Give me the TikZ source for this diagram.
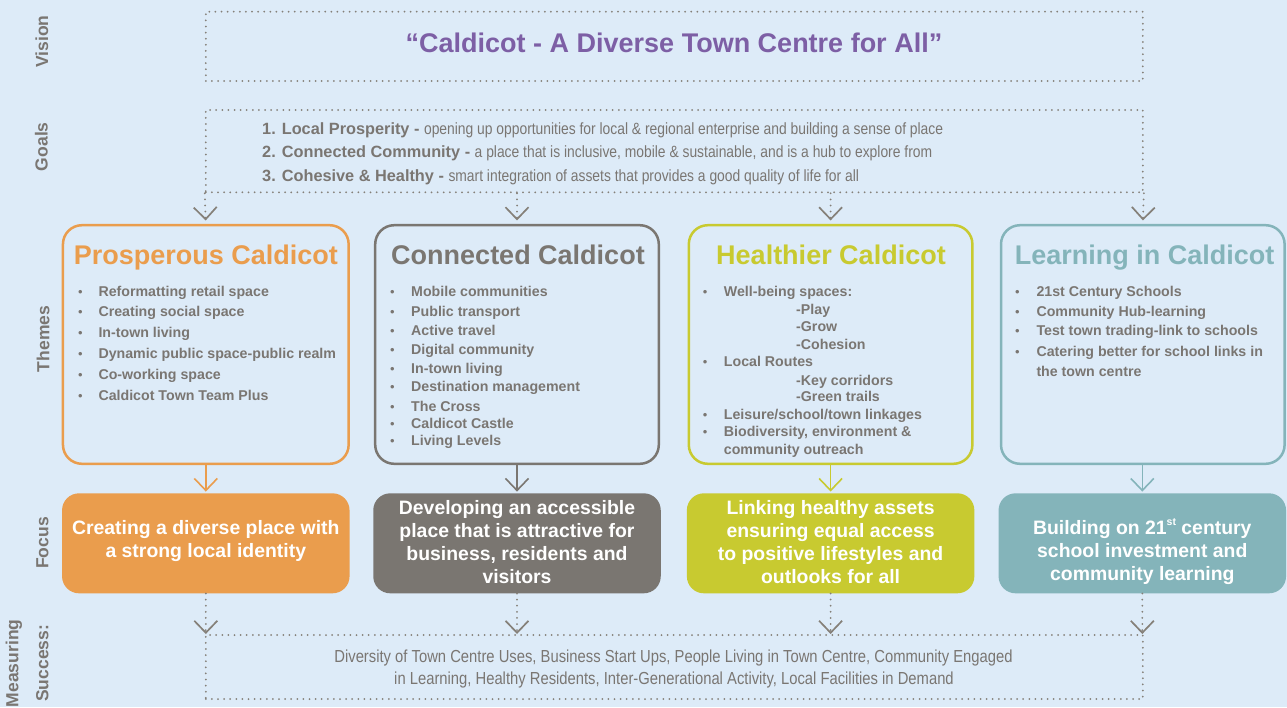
\documentclass[tikz,border=0pt]{standalone}
\usepackage{fontspec}
\setmainfont{Liberation Sans}
\newfontfamily\narrowfont[FakeStretch=0.85]{Liberation Sans}
\usetikzlibrary{arrows.meta}
\definecolor{bg}{HTML}{DDEBF8}
\definecolor{txt}{HTML}{7A7672}
\definecolor{dotc}{HTML}{858079}
\definecolor{cOr}{HTML}{EA9D4D}
\definecolor{cGy}{HTML}{7A7671}
\definecolor{cYg}{HTML}{C8CA30}
\definecolor{cTl}{HTML}{84B4BA}
\definecolor{cPu}{HTML}{7D5FA5}
\newcommand\fs[1]{\fontsize{#1}{#1}\selectfont}
\newcommand\flines[4]{\foreach \t [count=\i from 0] in {#4} {\node[ftxt] (#1-\i) at (#2, #3+23*\i) {\t};}}
\tikzset{
  lbl/.style={rotate=90, anchor=base, inner sep=0, text=txt, font=\bfseries\fs{17.5}},
  dotline/.style={draw=dotc, line width=2pt, line cap=round, dash pattern=on 0pt off 6.1pt},
  dotbox/.style={dotline, minimum width=937pt, inner sep=0},
  dotarrow/.style={dotline, -{Straight Barb[length=12pt,width=23pt,line width=1.7pt]}},
  sarrow/.style={line width=1.5pt, -{Straight Barb[length=12pt,width=23pt,line width=1.6pt]}, shorten >=1.5pt},
  thbox/.style={draw, line width=2.5pt, rounded corners=19pt, minimum height=238.6pt, inner sep=0},
  fcbox/.style={rounded corners=17pt, minimum width=287.5pt, minimum height=100pt, inner sep=0},
  ttl/.style={anchor=base, inner sep=0, font=\bfseries\fs{27}},
  btxt/.style={anchor=base west, inner sep=0, text=txt, font=\bfseries\fs{14.2}},
  bdot/.style={anchor=base west, inner sep=0, text=txt, font=\fs{13}},
  ftxt/.style={anchor=base, inner sep=0, text=white, font=\bfseries\fs{19.4}},
  gtxt/.style={anchor=base west, inner sep=0, text=txt},
  mtxt/.style={anchor=base, inner sep=0, text=txt, font=\narrowfont\fs{17.4}}
}
\begin{document}
\begin{tikzpicture}[x=1pt,y=-1pt]
\fill[bg] (0,0) rectangle (1287,707);
\useasboundingbox (0,0) rectangle (1287,707);

% side labels
\node[lbl] (lv) at (48,41.7) {Vision};
\node[lbl] (lg) at (47.7,146.7) {Goals};
\node[lbl] (lt) at (49.3,339) {Themes};
\node[lbl] (lf) at (48.4,543) {Focus};
\node[lbl] (lm1) at (18.3,663.3) {Measuring};
\node[lbl] (lm2) at (48.3,663.3) {Success:};

% vision
\node[dotbox, minimum height=69.3pt] (vision) at (674.3,46.35) {};
\node[ttl, text=cPu] (title) at (674,52) {“Caldicot - A Diverse Town Centre for All”};

% goals
\node[dotbox, minimum height=82.3pt] (goals) at (674.3,151.15) {};
\node[gtxt] (g1) at (262,134.3) {{\bfseries\fs{16.3}1. Local Prosperity - }{\narrowfont\fs{16.3}opening up opportunities for local \& regional enterprise and building a sense of place}};
\node[gtxt] (g2) at (262,157.7) {{\bfseries\fs{16.3}2. Connected Community - }{\narrowfont\fs{16.3}a place that is inclusive, mobile \& sustainable, and is a hub to explore from}};
\node[gtxt] (g3) at (262,181) {{\bfseries\fs{16.3}3. Cohesive \& Healthy - }{\narrowfont\fs{16.3}smart integration of assets that provides a good quality of life for all}};

% theme boxes
\node[thbox, draw=cOr, minimum width=285.7pt] (t1) at (205.8,344.5) {};
\node[thbox, draw=cGy, minimum width=283.6pt] (t2) at (517,344.5) {};
\node[thbox, draw=cYg, minimum width=283.6pt] (t3) at (830.6,344.5) {};
\node[thbox, draw=cTl, minimum width=283.6pt] (t4) at (1142.8,344.5) {};

\node[ttl, text=cOr] (tt1) at (205.8,264) {Prosperous Caldicot};
\node[ttl, text=cGy] (tt2) at (518,264) {Connected Caldicot};
\node[ttl, text=cYg] (tt3) at (831,264) {Healthier Caldicot};
\node[ttl, text=cTl] (tt4) at (1144.5,264) {Learning in Caldicot};

% theme bullets
\foreach \y/\t [count=\i] in {296/Reformatting retail space, 316.7/Creating social space, 337.7/In-town living, 358.3/Dynamic public space-public realm, 379/Co-working space, 400/Caldicot Town Team Plus}
  {\node[btxt] (a\i) at (98.3,\y) {\t}; \node[bdot] (ab\i) at (78,\y) {•};}
\foreach \y/\t [count=\i] in {296/Mobile communities, 316/Public transport, 335/Active travel, 354/Digital community, 373.3/In-town living, 391.7/Destination management, 411.7/The Cross, 428.3/Caldicot Castle, 445.7/Living Levels}
  {\node[btxt] (c\i) at (411,\y) {\t}; \node[bdot] (cb\i) at (390,\y) {•};}
\foreach \y/\t [count=\i] in {296/Well-being spaces:, 366.7/Local Routes, 419.3/{Leisure/school/town linkages}, 436.7/{Biodiversity, environment \&}}
  {\node[btxt] (h\i) at (723.7,\y) {\t}; \node[bdot] (hb\i) at (702.7,\y) {•};}
\node[btxt] (h5) at (723.7,454.3) {community outreach};
\foreach \y/\t [count=\i] in {314/-Play, 331.7/-Grow, 349/-Cohesion, 385/-Key corridors, 401.7/-Green trails}
  {\node[btxt] (hs\i) at (796,\y) {\t};}
\foreach \y/\t [count=\i] in {296/21st Century Schools, 316/Community Hub-learning, 335/Test town trading-link to schools, 356/Catering better for school links in}
  {\node[btxt] (l\i) at (1036.3,\y) {\t}; \node[bdot] (lb\i) at (1015,\y) {•};}
\node[btxt] (l5) at (1036.3,376) {the town centre};

% focus boxes
\node[fcbox, fill=cOr] (f1) at (205.8,543.3) {};
\node[fcbox, fill=cGy] (f2) at (517,543.3) {};
\node[fcbox, fill=cYg] (f3) at (830.6,543.3) {};
\node[fcbox, fill=cTl] (f4) at (1142.3,543.3) {};

\flines{fa}{205.8}{534}{Creating a diverse place with, a strong local identity}
\flines{fb}{517}{514.3}{Developing an accessible, place that is attractive for, {business, residents and}, visitors}
\flines{fc}{830.6}{514.3}{Linking healthy assets, ensuring equal access, to positive lifestyles and, outlooks for all}
\flines{fd}{1142.3}{534}{Building on 21\raisebox{0.45em}{\fs{10.5}st} century, school investment and, community learning}

% measuring
\node[dotbox, minimum height=64pt] (meas) at (674.3,667) {};
\node[mtxt] (m1) at (673.5,662.7) {Diversity of Town Centre Uses, Business Start Ups, People Living in Town Centre, Community Engaged};
\node[mtxt] (m2) at (674,684.3) {in Learning, Healthy Residents, Inter-Generational Activity, Local Facilities in Demand};

% connectors goals -> themes
\draw[dotarrow, shorten >=3.5pt] (goals.south west) -- (t1.north);
\draw[dotarrow, shorten >=3.5pt] (goals.south -| t2.north) -- (t2.north);
\draw[dotarrow, shorten >=3.5pt] (goals.south -| t3.north) -- (t3.north);
\draw[dotarrow, shorten >=3.5pt] (goals.south east) -- (t4.north);

% themes -> focus
\draw[sarrow, cOr] (t1.south) -- (f1.north);
\draw[sarrow, cGy] (t2.south) -- (f2.north);
\draw[sarrow, cYg] (t3.south) -- (f3.north);
\draw[sarrow, cTl] (t4.south -| f4.north) -- (f4.north);

% focus -> measuring
\draw[dotarrow] (f1.south) -- (f1.south |- meas.north);
\draw[dotarrow] (f2.south) -- (f2.south |- meas.north);
\draw[dotarrow] (f3.south) -- (f3.south |- meas.north);
\draw[dotarrow] (f4.south) -- (f4.south |- meas.north);
\end{tikzpicture}
\end{document}
